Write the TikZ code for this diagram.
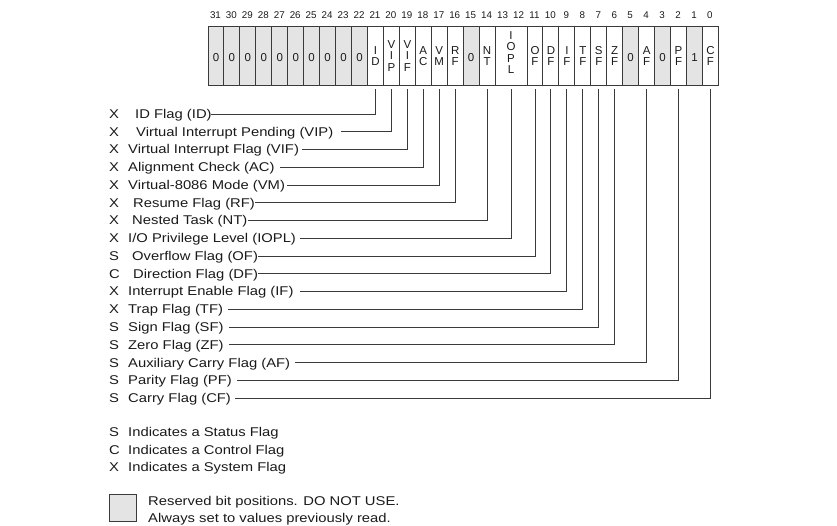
\documentclass[tikz,border=0pt]{standalone}
\usepackage{fontspec}
\newfontfamily\labfam{Liberation Sans}[FakeStretch=1.165]
\newfontfamily\regfam{Liberation Sans}
\definecolor{linec}{HTML}{3A3A3A}
\definecolor{txt}{HTML}{1A1A1A}
\definecolor{rsvfill}{HTML}{E4E4E4}
\newcommand{\labf}{\labfam\fontsize{12.7}{15}\selectfont}
\newcommand{\cellf}{\regfam\fontsize{11.5}{11.5}\selectfont}
\newcommand{\numf}{\regfam\fontsize{9.8}{10}\selectfont}
\tikzset{
  cell/.style={draw=linec, line width=1pt, minimum width=15.95pt, minimum height=59pt,
    inner sep=0pt, anchor=north west, font=\cellf, align=center, text=txt},
  rsv/.style={cell, fill=rsvfill},
  onechar/.style={text height=11.5pt, text depth=0pt},
  num/.style={font=\numf, inner sep=0pt, text=txt},
  lab/.style={font=\labf, inner sep=0pt, text height=9pt, text depth=0pt, anchor=west, text=txt},
  conn/.style={draw=linec, line width=0.9pt, shorten <=3.5pt}
}
\begin{document}
\begin{tikzpicture}[x=1pt,y=-1pt]
\useasboundingbox (0,0) rectangle (837,526);
\def\xL{207.5}
\def\w{15.95}
% bit numbers
\foreach \b in {0,...,31}{
  \node[num] (n\b) at ({\xL+(31-\b+0.5)*\w},15) {\b};
}
% reserved high bits
\foreach \b in {31,...,22}{
  \node[rsv, onechar] (c\b) at ({\xL+(31-\b)*\w},26) {0};
}
\node[cell] (c21) at ({\xL+10*\w},26) {I\\D};
\node[cell] (c20) at ({\xL+11*\w},26) {V\\I\\P};
\node[cell] (c19) at ({\xL+12*\w},26) {V\\I\\F};
\node[cell] (c18) at ({\xL+13*\w},26) {A\\C};
\node[cell] (c17) at ({\xL+14*\w},26) {V\\M};
\node[cell] (c16) at ({\xL+15*\w},26) {R\\F};
\node[rsv, onechar] (c15) at ({\xL+16*\w},26) {0};
\node[cell] (c14) at ({\xL+17*\w},26) {N\\T};
\node[cell, minimum width=31.9pt, text depth=7pt] (c13) at ({\xL+18*\w},26) {I\\O\\P\\L};
\node[cell] (c11) at ({\xL+20*\w},26) {O\\F};
\node[cell] (c10) at ({\xL+21*\w},26) {D\\F};
\node[cell] (c9) at ({\xL+22*\w},26) {I\\F};
\node[cell] (c8) at ({\xL+23*\w},26) {T\\F};
\node[cell] (c7) at ({\xL+24*\w},26) {S\\F};
\node[cell] (c6) at ({\xL+25*\w},26) {Z\\F};
\node[rsv, onechar] (c5) at ({\xL+26*\w},26) {0};
\node[cell] (c4) at ({\xL+27*\w},26) {A\\F};
\node[rsv, onechar] (c3) at ({\xL+28*\w},26) {0};
\node[cell] (c2) at ({\xL+29*\w},26) {P\\F};
\node[rsv, onechar] (c1) at ({\xL+30*\w},26) {1};
\node[cell] (c0) at ({\xL+31*\w},26) {C\\F};
% labels: index, prefix, x, text, cell, gap
\foreach \i/\p/\x/\t/\c/\g in {
  0/X/135/{ID Flag (ID)}/c21/-1,
  1/X/136/{Virtual Interrupt Pending (VIP)}/c20/7,
  2/X/128/{Virtual Interrupt Flag (VIF)}/c19/2.5,
  3/X/128/{Alignment Check (AC)}/c18/5,
  4/X/128/{Virtual-8086 Mode (VM)}/c17/2,
  5/X/133/{Resume Flag (RF)}/c16/0,
  6/X/132/{Nested Task (NT)}/c14/0,
  7/X/128/{I/O Privilege Level (IOPL)}/c13/4,
  8/S/132/{Overflow Flag (OF)}/c11/0,
  9/C/133/{Direction Flag (DF)}/c10/0,
  10/X/128/{Interrupt Enable Flag (IF)}/c9/6,
  11/X/128/{Trap Flag (TF)}/c8/5,
  12/S/128/{Sign Flag (SF)}/c7/5,
  13/S/128/{Zero Flag (ZF)}/c6/5,
  14/S/128/{Auxiliary Carry Flag (AF)}/c4/5,
  15/S/128/{Parity Flag (PF)}/c2/5,
  16/S/128/{Carry Flag (CF)}/c0/4}{
  \node[lab] (p\i) at (109,{114+17.75*\i}) {\p};
  \node[lab] (l\i) at (\x,{114+17.75*\i}) {\t};
  \draw[conn] (\c.south) |- ([xshift=\g pt]l\i.east);
}
% legend
\node[lab] (ls) at (109,432) {S};
\node[lab] (lst) at (128,432) {Indicates a Status Flag};
\node[lab] (lc) at (109,449.5) {C};
\node[lab] (lct) at (128,449.5) {Indicates a Control Flag};
\node[lab] (lx) at (109,467) {X};
\node[lab] (lxt) at (128,467) {Indicates a System Flag};
\node[draw=linec, line width=1pt, fill=rsvfill, minimum width=27pt, minimum height=27pt,
  inner sep=0pt, anchor=north west] (rbox) at (109,494) {};
\node[lab] (r1) at (148,501) {Reserved bit positions. DO NOT USE.};
\node[lab] (r2) at (148,517.5) {Always set to values previously read.};
\end{tikzpicture}
\end{document}
